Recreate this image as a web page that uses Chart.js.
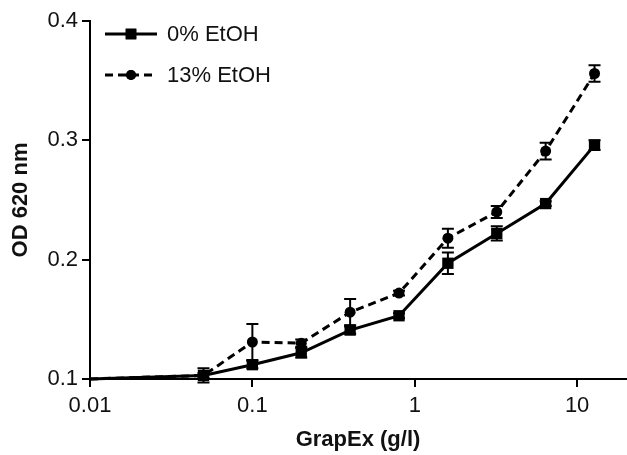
<!DOCTYPE html>
<html>
<head>
<meta charset="utf-8">
<script src="https://cdn.jsdelivr.net/npm/chart.js@4"></script>
<style>
  html, body { margin: 0; padding: 0; background: #fff; overflow: hidden; }
  #wrap { width: 627px; height: 455px; overflow: hidden; }
</style>
</head>
<body>
<div id="wrap"><canvas id="chart" width="634" height="455"></canvas></div>
<script>
// GrapEx concentration (g/l) and OD readings
var concentrations = [0.01, 0.05, 0.1, 0.2, 0.4, 0.8, 1.6, 3.2, 6.4, 12.8];
var od0 = [0.100, 0.103, 0.112, 0.122, 0.141, 0.153, 0.197, 0.222, 0.247, 0.296];
var err0 = [0, 0.002, 0.003, 0.004, 0.003, 0.002, 0.009, 0.006, 0.002, 0.004];
var od13 = [0.100, 0.103, 0.131, 0.130, 0.156, 0.172, 0.218, 0.240, 0.291, 0.356];
var err13 = [0, 0.006, 0.015, 0.003, 0.011, 0.002, 0.008, 0.005, 0.007, 0.007];
var seriesNames = ["0% EtOH", "13% EtOH"];
var xTicks = [0.01, 0.1, 1, 10];
var yTicks = [0.1, 0.2, 0.3, 0.4];

var FONT = "'Liberation Sans', Arial, sans-serif";

function toPoints(values) {
  return concentrations.map(function (c, i) {
    return { x: c, y: values[i] };
  });
}

function radii(r) {
  return concentrations.map(function (c, i) { return i === 0 ? 0 : r; });
}

// vertical error bars with caps, drawn under the markers
var errorBars = {
  id: "errorBars",
  beforeDatasetsDraw: function (chart) {
    var ctx = chart.ctx;
    var xs = chart.scales.x, ys = chart.scales.y;
    ctx.save();
    ctx.strokeStyle = "#000";
    ctx.lineWidth = 2;
    chart.data.datasets.forEach(function (ds) {
      ds.errors.forEach(function (e, i) {
        if (!e) return;
        var p = ds.data[i];
        var px = xs.getPixelForValue(p.x);
        var top = ys.getPixelForValue(p.y + e);
        var bot = ys.getPixelForValue(p.y - e);
        ctx.beginPath();
        ctx.moveTo(px, top); ctx.lineTo(px, bot);
        ctx.moveTo(px - 6, top); ctx.lineTo(px + 6, top);
        ctx.moveTo(px - 6, bot); ctx.lineTo(px + 6, bot);
        ctx.stroke();
      });
    });
    ctx.restore();
  }
};

// legend: line sample with marker, then label
var lineLegend = {
  id: "lineLegend",
  afterDraw: function (chart) {
    var ctx = chart.ctx;
    ctx.save();
    chart.data.datasets.forEach(function (ds, i) {
      var y = 34 + i * 41;
      ctx.strokeStyle = "#000";
      ctx.lineWidth = 3;
      ctx.setLineDash(ds.borderDash || []);
      ctx.beginPath();
      ctx.moveTo(105, y); ctx.lineTo(157, y);
      ctx.stroke();
      ctx.setLineDash([]);
      Chart.helpers.drawPoint(ctx, {
        pointStyle: ds.pointStyle,
        radius: ds.pointStyle === "rect" ? 7.5 : 5,
        rotation: 0
      }, 131, y);
      ctx.fillStyle = "#000";
      ctx.fill();
      ctx.fillStyle = "#111";
      ctx.font = "22px " + FONT;
      ctx.textBaseline = "middle";
      ctx.fillText(ds.label, 167, y + 1);
    });
    ctx.restore();
  }
};

new Chart(document.getElementById("chart"), {
  type: "scatter",
  data: {
    datasets: [
      {
        label: seriesNames[0],
        data: toPoints(od0),
        errors: err0,
        showLine: true,
        borderColor: "#000",
        backgroundColor: "#000",
        borderWidth: 3,
        pointStyle: "rect",
        pointRadius: radii(8),
        pointBorderWidth: 0,
        clip: false
      },
      {
        label: seriesNames[1],
        data: toPoints(od13),
        errors: err13,
        showLine: true,
        borderColor: "#000",
        backgroundColor: "#000",
        borderWidth: 3,
        borderDash: [8, 5],
        pointStyle: "circle",
        pointRadius: radii(5.5),
        pointBorderWidth: 0,
        clip: false
      }
    ]
  },
  options: {
    responsive: false,
    animation: false,
    layout: { padding: { top: 21, right: 0, left: 0, bottom: 0 } },
    plugins: {
      legend: { display: false },
      tooltip: { enabled: false }
    },
    scales: {
      x: {
        type: "logarithmic",
        min: 0.01,
        max: 20,
        afterBuildTicks: function (scale) {
          scale.ticks = xTicks.map(function (v) { return { value: v }; });
        },
        afterFit: function (scale) {
          scale.height = 76;
          scale.paddingRight = 0;
          scale.paddingLeft = 0;
        },
        ticks: {
          color: "#111",
          font: { family: FONT, size: 22 },
          padding: 6,
          maxRotation: 0,
          callback: function (v) { return String(v); }
        },
        grid: { drawOnChartArea: false, color: "#000", lineWidth: 2, tickLength: 8 },
        border: { color: "#000", width: 2 },
        title: {
          display: true,
          text: "GrapEx (g/l)",
          color: "#111",
          font: { family: FONT, size: 22, weight: "bold" },
          padding: { top: 0, bottom: 2 }
        }
      },
      y: {
        min: 0.1,
        max: 0.4,
        afterBuildTicks: function (scale) {
          scale.ticks = yTicks.map(function (v) { return { value: v }; });
        },
        afterFit: function (scale) { scale.width = 90; },
        ticks: {
          color: "#111",
          font: { family: FONT, size: 22 },
          padding: 4,
          callback: function (v) { return v.toFixed(1); }
        },
        grid: { drawOnChartArea: false, color: "#000", lineWidth: 2, tickLength: 8 },
        border: { color: "#000", width: 2 },
        title: {
          display: true,
          text: "OD 620 nm",
          color: "#111",
          font: { family: FONT, size: 22, weight: "bold" },
          padding: { top: 8, bottom: 0 }
        }
      }
    }
  },
  plugins: [errorBars, lineLegend]
});
</script>
</body>
</html>
